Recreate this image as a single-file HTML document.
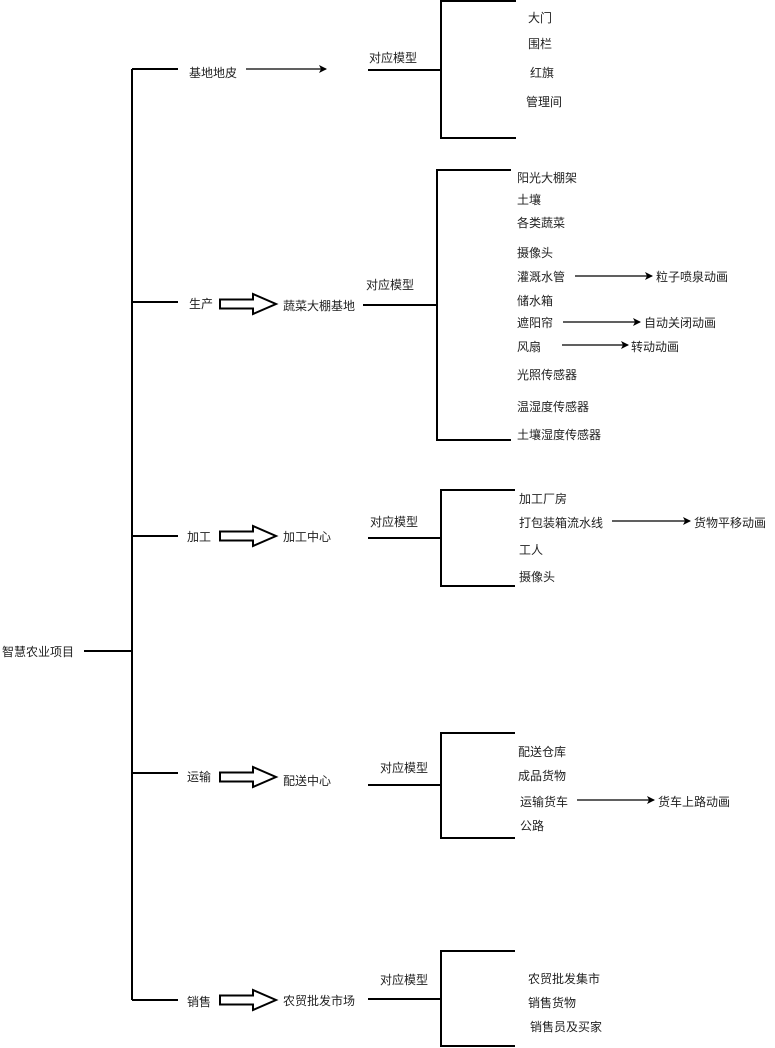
<!DOCTYPE html>
<html><head><meta charset="utf-8"><style>
html,body{margin:0;padding:0;background:#fff;}
svg{display:block;}
text{font-family:"Liberation Sans","Noto Sans CJK SC",sans-serif;font-size:12px;fill:#222;dominant-baseline:central;}
</style></head><body>
<svg width="775" height="1048" viewBox="0 0 775 1048" xmlns="http://www.w3.org/2000/svg">
<defs>
<marker id="ah" markerWidth="8" markerHeight="8" refX="7" refY="4" orient="auto" markerUnits="userSpaceOnUse">
<path d="M0,0 L8,4 L0,8 L2,4 Z" fill="#000"/>
</marker>
<g id="hollow"><path d="M0,-4.5 L33,-4.5 L33,-10 L56,0 L33,10 L33,4.5 L0,4.5 Z" fill="#fff" stroke="#000" stroke-width="2" stroke-linejoin="miter"/></g>
</defs>
<g stroke="#000" stroke-width="2" fill="none">
<!-- main spine -->
<path d="M132,69 L132,1000"/>
<path d="M84,651 L132,651"/>
<path d="M132,69 L178,69"/>
<path d="M132,302 L178,302"/>
<path d="M132,536 L178,536"/>
<path d="M132,773 L178,773"/>
<path d="M132,1000 L178,1000"/>
<!-- bracket 1 -->
<path d="M368,70 L441,70"/>
<path d="M516,1 L441,1 L441,138 L516,138"/>
<!-- bracket 2 -->
<path d="M363,305 L437,305"/>
<path d="M511,170 L437,170 L437,440 L511,440"/>
<!-- bracket 3 -->
<path d="M368,538 L441,538"/>
<path d="M515,490 L441,490 L441,586 L515,586"/>
<!-- bracket 4 -->
<path d="M368,785 L441,785"/>
<path d="M515,733 L441,733 L441,838 L515,838"/>
<!-- bracket 5 -->
<path d="M368,999 L441,999"/>
<path d="M515,951 L441,951 L441,1046 L515,1046"/>
</g>
<g stroke="#000" stroke-width="1.3" fill="none" marker-end="url(#ah)">
<path d="M246,69 L326,69"/>
<path d="M575,276 L652,276"/>
<path d="M563,322 L640,322"/>
<path d="M562,345 L628,345"/>
<path d="M612,521 L690,521"/>
<path d="M577,800 L654,800"/>
</g>
<use href="#hollow" x="220" y="304"/>
<use href="#hollow" x="220" y="536"/>
<use href="#hollow" x="220" y="777"/>
<use href="#hollow" x="220" y="1000"/>

<text x="2" y="652">智慧农业项目</text>
<text x="189" y="73">基地地皮</text>
<text x="369" y="58">对应模型</text>
<text x="528" y="18">大门</text>
<text x="528" y="44">围栏</text>
<text x="530" y="73">红旗</text>
<text x="526" y="102">管理间</text>

<text x="189" y="304">生产</text>
<text x="283" y="306">蔬菜大棚基地</text>
<text x="366" y="285">对应模型</text>
<text x="517" y="178">阳光大棚架</text>
<text x="517" y="200">土壤</text>
<text x="517" y="223">各类蔬菜</text>
<text x="517" y="253">摄像头</text>
<text x="517" y="277">灌溉水管</text>
<text x="517" y="301">储水箱</text>
<text x="517" y="323">遮阳帘</text>
<text x="517" y="347">风扇</text>
<text x="517" y="375">光照传感器</text>
<text x="517" y="407">温湿度传感器</text>
<text x="517" y="435">土壤湿度传感器</text>
<text x="656" y="277">粒子喷泉动画</text>
<text x="644" y="323">自动关闭动画</text>
<text x="631" y="347">转动动画</text>

<text x="187" y="537">加工</text>
<text x="283" y="537">加工中心</text>
<text x="370" y="522">对应模型</text>
<text x="519" y="499">加工厂房</text>
<text x="519" y="523">打包装箱流水线</text>
<text x="519" y="550">工人</text>
<text x="519" y="577">摄像头</text>
<text x="694" y="523">货物平移动画</text>

<text x="187" y="777">运输</text>
<text x="283" y="781">配送中心</text>
<text x="380" y="768">对应模型</text>
<text x="518" y="752">配送仓库</text>
<text x="518" y="776">成品货物</text>
<text x="520" y="802">运输货车</text>
<text x="520" y="826">公路</text>
<text x="658" y="802">货车上路动画</text>

<text x="187" y="1002">销售</text>
<text x="283" y="1001">农贸批发市场</text>
<text x="380" y="980">对应模型</text>
<text x="528" y="979">农贸批发集市</text>
<text x="528" y="1003">销售货物</text>
<text x="530" y="1027">销售员及买家</text>
</svg>
</body></html>
